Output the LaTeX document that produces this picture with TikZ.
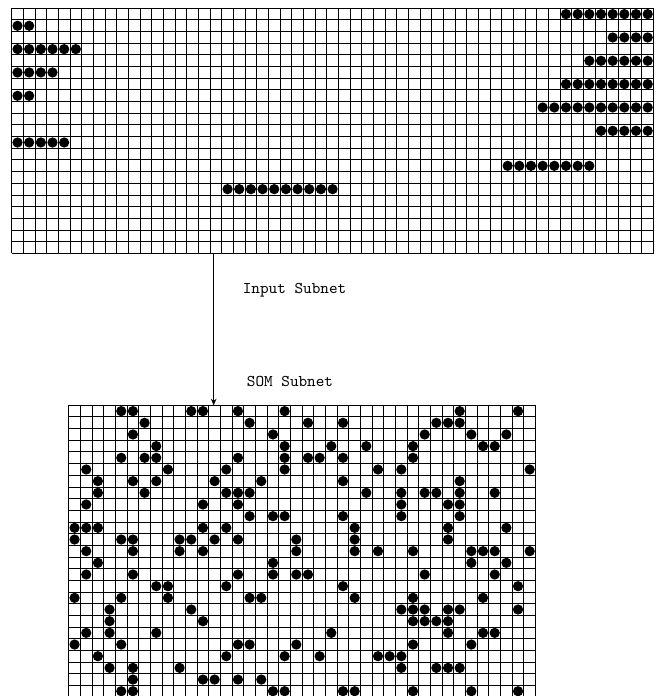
\documentclass[tikz,border=0pt]{standalone}
\usepackage{tikz}
\usetikzlibrary{arrows.meta}

\tikzset{
  cellline/.style={line width=0.6pt, black},
  unit/.style={fill=black}
}

\begin{document}
\begin{tikzpicture}[x=0.25cm, y=-0.25cm, font=\ttfamily]
  \useasboundingbox (0,0) rectangle (56.3,59.64);

  % Input subnet (55 x 21 cells)
  \begin{scope}[shift={(1,0.71)}]
    \foreach \i in {0,...,55} \draw[cellline] (\i,0) -- (\i,21);
    \foreach \j in {0,...,21} \draw[cellline] (0,\j) -- (55,\j);
    % active input units: row / first / last column
    \foreach \r/\a/\b in {0/47/54, 1/0/1, 2/51/54, 3/0/5, 4/49/54, 5/0/3,
                          6/47/54, 7/0/1, 8/45/54, 10/50/54, 11/0/4,
                          13/42/49, 15/18/27}
      \foreach \c in {\a,...,\b}
        \fill[unit] (\c+0.5,\r+0.5) circle (0.44);
    \coordinate (input) at (17.31,21);
  \end{scope}

  % SOM subnet (40 x 25 cells)
  \begin{scope}[shift={(5.89,34.73)}]
    \foreach \i in {0,...,40} \draw[cellline] (\i,0) -- (\i,25);
    \foreach \j in {0,...,25} \draw[cellline] (0,\j) -- (40,\j);
    % winning units, row by row
    \foreach \r/\cs in {0/{4,5,10,11,14,18,33,38},
                        1/{6,15,20,23,31,32,33},
                        2/{5,17,30,34,37},
                        3/{7,18,22,25,29,35,36},
                        4/{4,6,7,14,18,20,21,23,29},
                        5/{1,8,13,18,26,28,39},
                        6/{2,5,7,12,16,23,33},
                        7/{2,6,13,14,15,25,28,30,31,33,36},
                        8/{1,11,14,28,32,33},
                        9/{15,17,18,23,28,33},
                        10/{0,1,2,11,13,24,32,37},
                        11/{0,4,5,9,10,12,14,19,24,32},
                        12/{1,5,9,11,19,24,26,29,34,35,36,39},
                        13/{2,17,34,37},
                        14/{1,5,14,17,19,20,30,36},
                        15/{7,8,13,23,38},
                        16/{0,4,8,15,16,24,29,35},
                        17/{3,10,28,29,30,32,33,38},
                        18/{3,11,29,30,31,32},
                        19/{1,3,7,22,32,35,36},
                        20/{0,4,14,15,19,29,34},
                        21/{2,13,18,21,26,27,28},
                        22/{3,5,9,28,31,32,33},
                        23/{5,11,12,14,16},
                        24/{4,5,17,18,23,24,29,34,38}}
      \foreach \c in \cs
        \fill[unit] (\c+0.5,\r+0.5) circle (0.44);
    \coordinate (som) at (12.42,0);
  \end{scope}

  % Labels
  \node[anchor=base, inner sep=0pt] (inlabel) at (25.24,25.19) {Input Subnet};
  \node[anchor=base, inner sep=0pt] (somlabel) at (24.85,33.08) {SOM Subnet};

  % Connection
  \draw[line width=0.5pt, -{Stealth[length=4pt, width=3.4pt]}] (input) -- (som);
\end{tikzpicture}
\end{document}
